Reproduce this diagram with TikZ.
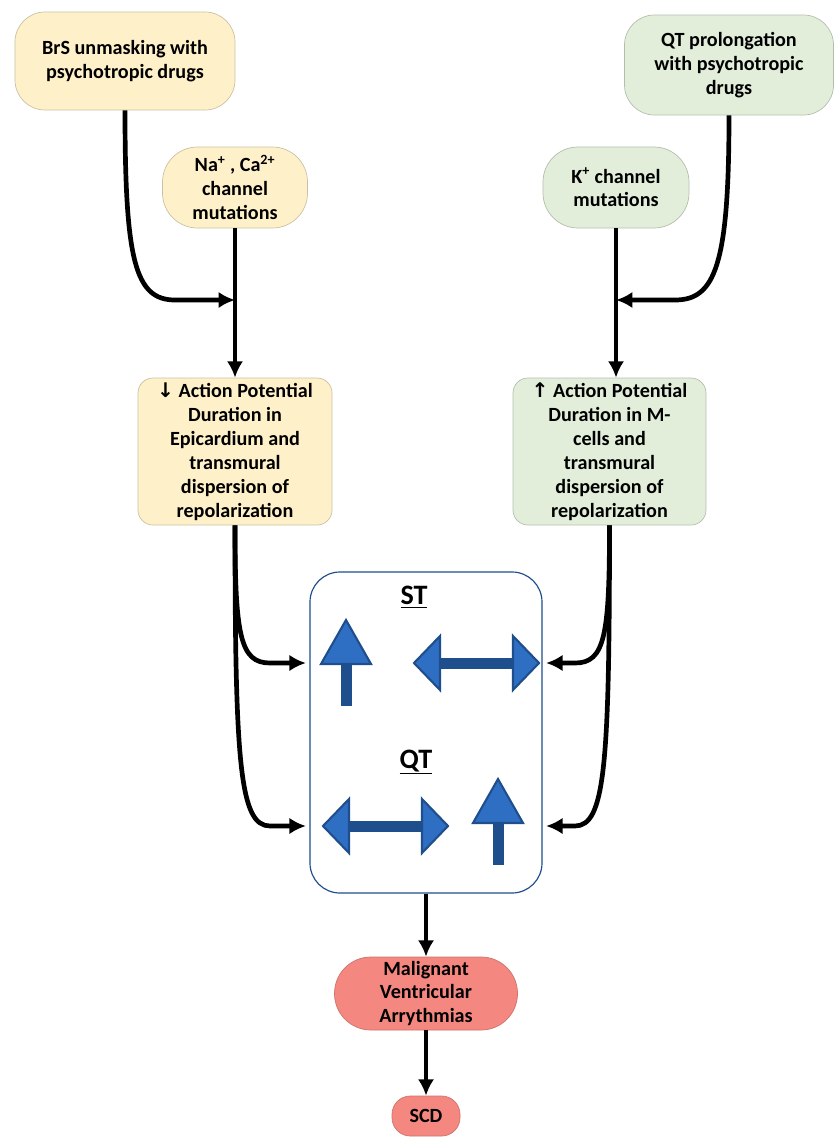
\documentclass[tikz,border=0pt]{standalone}
\usepackage{fontspec}
\setmainfont{Carlito}
\newfontfamily\arrowfont{DejaVu Sans}
\usepackage{xcolor}
\usetikzlibrary{arrows.meta}
\definecolor{paleyel}{HTML}{FEF1CA}
\definecolor{palegrn}{HTML}{E2EEDA}
\definecolor{salmon}{HTML}{F4877F}
\definecolor{bluedk}{HTML}{1F4E8C}
\definecolor{bluelt}{HTML}{2E6FC4}
% blue ECG arrows: \uparw{x}{base y}, \lrarw{x left}{x right}{y}
\newcommand{\uparw}[2]{%
  \fill[bluedk] (#1-5.5,#2) rectangle (#1+5.5,#2-44);
  \filldraw[bluehead] (#1-25,#2-42) -- (#1,#2-86) -- (#1+25,#2-42) -- cycle;}
\newcommand{\lrarw}[3]{%
  \fill[bluedk] (#1+20,#3-5.5) rectangle (#2-20,#3+5.5);
  \filldraw[bluehead] (#1+26,#3-27) -- (#1,#3) -- (#1+26,#3+27) -- cycle;
  \filldraw[bluehead] (#2-26,#3-27) -- (#2,#3) -- (#2-26,#3+27) -- cycle;}

\begin{document}
\begin{tikzpicture}[x=0.03cm, y=-0.03cm,
  every node/.style={font=\fontsize{17.2}{20.4}\selectfont\bfseries, align=center, inner sep=0pt},
  yelbox/.style={fill=paleyel, draw=paleyel!80!black, line width=0.6pt},
  grnbox/.style={fill=palegrn, draw=palegrn!80!black, line width=0.6pt},
  redbox/.style={fill=salmon, draw=salmon!85!black, line width=0.6pt},
  flow/.style={-{Latex[length=14pt,width=14pt]}, line width=4pt, line join=round},
  bluehead/.style={fill=bluelt, draw=bluedk, line width=1.8pt, line join=miter}]
\useasboundingbox (0,0) rectangle (834,1138);
% Brugada side
\node[yelbox, rounded corners=0.9cm, minimum width=6.6cm, minimum height=2.94cm] (brs) at (125,61) {BrS unmasking with\\psychotropic drugs};
\node[yelbox, rounded corners=1.05cm, minimum width=4.35cm, minimum height=2.43cm] (ion) at (235,187.5) {Na\textsuperscript{+} , Ca\textsuperscript{2+}\\channel\\mutations};
\node[yelbox, rounded corners=0.45cm, minimum width=5.82cm, minimum height=4.41cm] (apdl) at (235,451.5) {{\arrowfont ↓} Action Potential\\Duration in\\Epicardium and\\transmural\\dispersion of\\repolarization};
% long QT side
\node[grnbox, rounded corners=0.9cm, minimum width=6.27cm, minimum height=3cm] (qtp) at (729,65) {QT prolongation\\with psychotropic\\drugs};
\node[grnbox, rounded corners=1.05cm, minimum width=4.38cm, minimum height=2.43cm] (kch) at (616,187.5) {K\textsuperscript{+} channel\\mutations};
\node[grnbox, rounded corners=0.45cm, minimum width=5.79cm, minimum height=4.41cm] (apdr) at (609.5,451.5) {{\arrowfont ↑} Action Potential\\Duration in M-\\cells and\\transmural\\dispersion of\\repolarization};
% ECG panel
\node[draw=bluedk, line width=1pt, rounded corners=0.9cm, minimum width=6.96cm, minimum height=9.63cm] (panel) at (426,732.5) {};
\node[font=\fontsize{24}{28}\selectfont\bfseries] (st) at (414,597) {\underline{ST}};
\node[font=\fontsize{24}{28}\selectfont\bfseries] (qt) at (416,762) {\underline{QT}};
\uparw{346}{706}
\lrarw{414}{539}{663}
\lrarw{323}{448}{826}
\uparw{498}{865}
% outcome
\node[redbox, rounded corners=1.09cm, minimum width=5.49cm, minimum height=2.19cm] (mva) at (426,993.5) {Malignant\\Ventricular\\Arrythmias};
\node[redbox, rounded corners=0.55cm, minimum width=2.04cm, minimum height=1.2cm] (scd) at (426,1116) {SCD};
% connectors
\coordinate (jl) at (235,300);
\coordinate (jr) at (616,300);
\draw[flow] (brs.south) .. controls +(0,150) and +(-40,0) .. (175,300) -- (jl);
\draw[flow] (ion.south) -- (apdl.north);
\draw[flow] (qtp.south) .. controls +(0,150) and +(40,0) .. (675,300) -- (jr);
\draw[flow] (kch.south) -- (kch.south |- apdr.north);
\draw[flow, shorten >=3pt] (apdl.south) .. controls +(0,110) and +(-30,0) .. (270,663) -- (panel.west |- 0,663);
\draw[flow, shorten >=3pt] (apdl.south) .. controls +(0,240) and +(-30,0) .. (270,826) -- (panel.west |- 0,826);
\draw[flow, shorten >=3pt] (apdr.south) .. controls +(0,110) and +(30,0) .. (575,663) -- (panel.east |- 0,663);
\draw[flow, shorten >=3pt] (apdr.south) .. controls +(0,240) and +(30,0) .. (575,826) -- (panel.east |- 0,826);
\draw[flow] (panel.south) -- (mva.north);
\draw[flow] (mva.south) -- (scd.north);
\end{tikzpicture}
\end{document}
